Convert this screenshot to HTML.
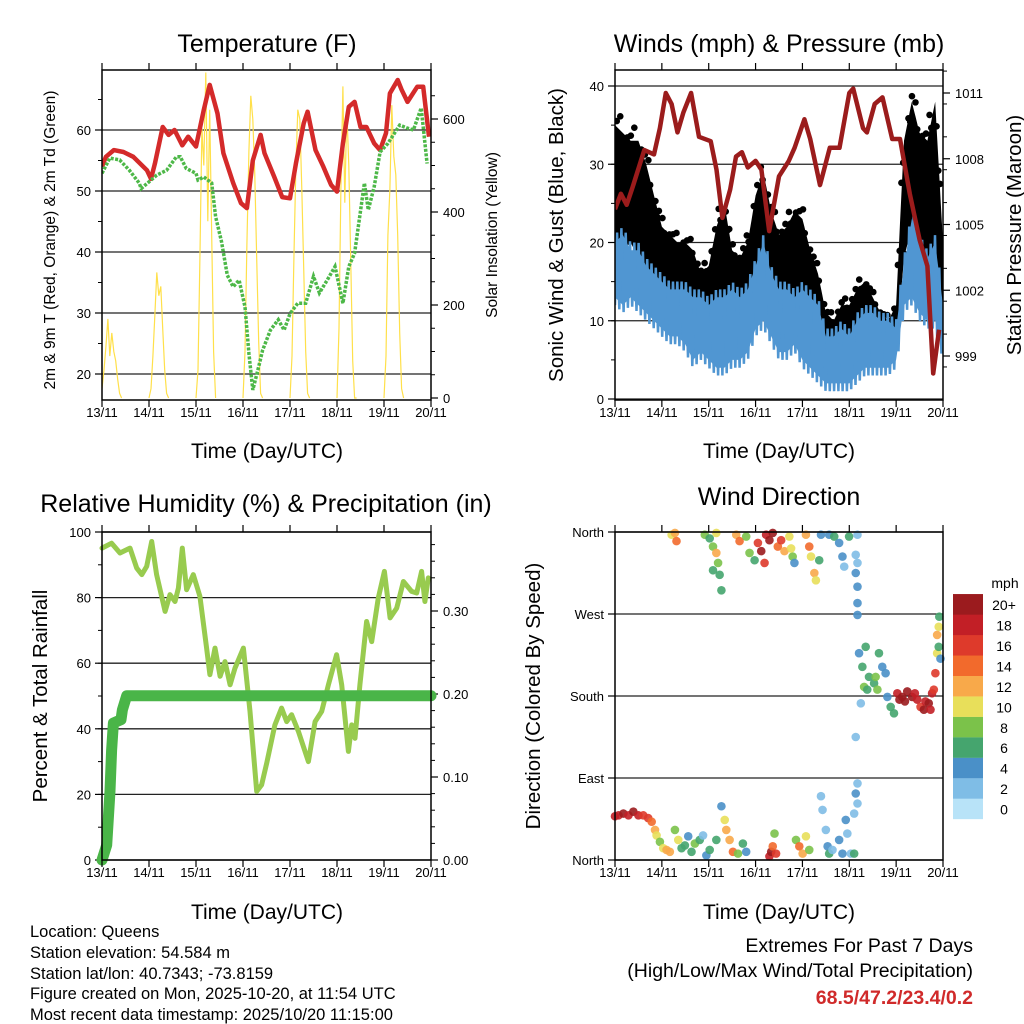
<!DOCTYPE html>
<html><head><meta charset="utf-8"><style>
html,body{margin:0;padding:0;background:#fff;}
svg{display:block;font-family:"Liberation Sans",Arial,sans-serif;}
</style></head><body>
<svg id="s" width="1024" height="1024" viewBox="0 0 1024 1024" xmlns="http://www.w3.org/2000/svg">
<text x="267" y="52" font-size="25" text-anchor="middle">Temperature (F)</text>
<text x="779" y="52" font-size="25" text-anchor="middle">Winds (mph) &amp; Pressure (mb)</text>
<text x="266" y="512" font-size="25" text-anchor="middle">Relative Humidity (%) &amp; Precipitation (in)</text>
<text x="779" y="505" font-size="25" text-anchor="middle">Wind Direction</text>
<text x="267" y="458" font-size="21" text-anchor="middle">Time (Day/UTC)</text>
<text x="779" y="458" font-size="21" text-anchor="middle">Time (Day/UTC)</text>
<text x="267" y="919" font-size="21" text-anchor="middle">Time (Day/UTC)</text>
<text x="779" y="919" font-size="21" text-anchor="middle">Time (Day/UTC)</text>
<text transform="translate(55,240) rotate(-90)" font-size="15.5" text-anchor="middle">2m &amp; 9m T (Red, Orange) &amp; 2m Td (Green)</text>
<text transform="translate(497,235) rotate(-90)" font-size="15.5" text-anchor="middle">Solar Insolation (Yellow)</text>
<text transform="translate(563,235) rotate(-90)" font-size="20.5" text-anchor="middle">Sonic Wind &amp; Gust (Blue, Black)</text>
<text transform="translate(1021,235) rotate(-90)" font-size="20.5" text-anchor="middle">Station Pressure (Maroon)</text>
<text transform="translate(47,696) rotate(-90)" font-size="20.5" text-anchor="middle">Percent &amp; Total Rainfall</text>
<text transform="translate(540,696) rotate(-90)" font-size="20.5" text-anchor="middle">Direction (Colored By Speed)</text>
<g font-size="16.5">
<text x="30" y="937">Location: Queens</text>
<text x="30" y="958">Station elevation: 54.584 m</text>
<text x="30" y="979">Station lat/lon: 40.7343; -73.8159</text>
<text x="30" y="999">Figure created on Mon, 2025-10-20, at 11:54 UTC</text>
<text x="30" y="1020">Most recent data timestamp: 2025/10/20 11:15:00</text>
</g>
<g font-size="19.5" text-anchor="end">
<text x="973" y="952">Extremes For Past 7 Days</text>
<text x="973" y="977">(High/Low/Max Wind/Total Precipitation)</text>
<text x="973" y="1004" fill="#d02a2a" font-weight="bold">68.5/47.2/23.4/0.2</text>
</g>
<g id="g"></g>
</svg>
<script>
const dayLabels=["13/11","14/11","15/11","16/11","17/11","18/11","19/11","20/11"];
// Temperature
const tHours=[0,2,6,11,16,23,25,27,31,34,37,41,44,48,52,55,59,62,67,71,74,77,81,83,88,92,96,99,103,105,109,113,117,120,123,126,129,132,135,139,142,145,147,151,153,156,161,164,167];
const tVals=[54,55.6,56.7,56.4,55.6,53.4,52,54.5,60.5,59.2,60,57.5,58.9,57.3,63.3,67.4,62.7,56.2,51.3,48,47.2,55,59.2,56.2,52.3,49,48.8,54.5,61.1,63,56.7,54,51,49.9,57.8,63.8,64.6,60.5,60.5,57.8,56.7,59.5,66,68.2,66.6,64.6,67.1,67.1,58.9];
const tdHours=[0,4,9,14,19,20,24,28,33,38,40,43,48,49,52,56,58,61,64,67,70,73,75,77,80,82,86,90,93,96,100,104,108,111,115,119,123,126,129,134,136,139,142,146,152,156,159,163,166];
const tdVals=[52.9,55.4,55.1,53.4,51.3,50.4,51.5,52.6,53.4,55.6,55.6,53.7,52.9,51.8,52.3,51.3,45.8,41.7,36.2,34.3,35.4,31,23.4,17.4,21.2,23.9,27.2,28.9,27.2,29.9,31.6,31.6,36,33.3,35.4,37.6,31.6,37.6,39.8,51.3,46.9,50.7,56.4,57.8,60.8,60.3,60,63.6,54.5];
const solarStart=[0,24,48,72,96,120,144];
const solar=[[20,60,110,170,90,140,100,80,40,10,0],[0,20,90,180,270,220,240,150,60,10,0],[0,60,300,580,500,700,380,620,350,100,0],[0,100,330,530,650,600,480,300,120,10,0],[0,90,300,500,620,600,450,280,100,10,0],[0,150,450,670,420,620,500,300,80,0,0],[0,90,350,450,630,520,480,350,140,20,0]];
// Winds
const wHours=[0,4,8,12,16,20,24,28,32,36,40,44,48,52,56,60,64,68,72,76,80,84,88,92,96,100,104,108,112,116,120,124,128,132,136,140,144,148,152,156,160,164,168];
const windLo=[13,12,13,12,11,10,9,8,8,7,5,6,5,4,4,5,5,6,9,10,8,6,6,7,5,4,3,2,2,2,2,3,4,4,4,4,5,12,13,11,10,10,6];
const windHi=[20,21,19,19,17,16,15,14,14,14,13,13,12,13,13,14,13,14,17,20,16,14,14,13,14,13,12,8,8,9,8,10,11,11,10,10,9,17,23,20,18,20,12];
const gustLo=[20,19,20,18,16,14,12,11,11,10,10,9,9,10,12,12,11,10,13,15,12,11,11,12,10,9,8,4,4,5,5,6,6,6,6,5,6,18,22,20,18,19,8];
const gustHi=[35,34,33,33,30,26,22,21,20,20,19,16,17,22,25,19,18,20,26,29,24,21,22,24,23,19,16,11,10,12,12,14,15,13,11,10,12,33,38,34,33,38,20];
const pHours=[0,3,6,9,15,20,23,26,29,32,35,39,43,49,52,55,59,62,65,68,72,75,79,84,89,92,97,100,105,110,115,120,122,127,129,133,137,142,146,151,156,160,163,166];
const pVals=[1005.7,1006.4,1005.9,1006.7,1008.4,1008.2,1009.4,1011,1010.5,1009.2,1010.1,1011,1009,1008.8,1007.5,1005.3,1006.6,1008.1,1008.3,1007.6,1007.9,1007.5,1004.7,1007.2,1007.9,1008.5,1009.8,1008.9,1006.8,1008.5,1008.5,1011,1011.2,1009.4,1009.2,1010.5,1010.8,1008.9,1008.9,1006.4,1004.3,1003.1,998.2,1000.2];
// RH & rain
const rhHours=[0,4.9,9.2,14.3,17.7,20.3,22.8,25.4,27.9,32.2,34.7,37.3,39,41,43.2,46.6,50,53.4,55.1,57.7,60.3,62.8,65.4,67.9,72.2,75.6,79,81.5,84.1,88.3,91.7,94.3,96.8,100.3,105.4,108.8,112.2,115.6,119.8,122.4,125.8,127.5,129.2,131.7,135.1,137.7,141.1,144.2,147.1,150.5,153.9,158.1,160.7,163.2,164.9,166.6];
const rhVals=[95.1,96.6,93.6,95.1,89,87,89.5,97.1,87,75.8,80.9,78.8,82.9,95.1,82.4,87,80.4,64.6,56.5,64.6,56,60.5,53.4,58.5,64.6,45.3,20.9,22.9,29.5,41.2,46.3,42.2,44.3,39.2,30,42.2,45.3,53.4,62.6,53.4,33.1,41.2,37.1,53.4,72.7,66.6,79.9,88,73.8,76.8,84.9,81.9,81.4,88,78.8,86];
const rainHours=[0,2.4,4.1,4.9,5.8,9.7,10.4,12.6,168];
const rainVals=[0,0.018,0.083,0.132,0.165,0.169,0.181,0.198,0.198];
// Wind direction
const wdHours=[0,1.8,4.3,6.9,9.4,12,14.5,17,18.8,20.5,21.3,23,24.7,26.4,28.1,30.7,32.4,34.1,35.8,37.5,39.2,40.9,43.4,45.1,46.8,48.5,51.9,54.5,56.2,57,58.7,60.4,63,65.5,67.2,79.1,80,80.8,81.7,82.5,92.7,94.4,96.1,97.8,99.5,105.5,106.3,108,108.9,109.7,111.4,114.8,116.5,118.2,119,120.8,122.5,124.2,124.2,123.3,122.5,
29,30.7,31.5,46,48.5,50.2,51.9,52.8,50.2,53.6,54.5,51.9,62.1,63.8,67.2,68.9,71.5,73.2,74.9,76.6,77.4,79.1,80.8,83.4,85.1,86.8,89.3,91,91.9,90.2,97.8,99.5,100.4,102.1,102.9,104.6,105.5,109.7,112.3,114.8,116.5,117.4,119.9,124.2,123.3,124.2,123.3,124.2,124.2,124.2,
123.3,125,126.7,127.6,125.9,128.4,130.1,132.7,134.4,135.2,136.9,138.6,139.5,141.2,142.9,144.6,147.1,149.7,152.2,154.8,156.5,159,160.7,162.4,163.3,164.1,165,165.8,165,165.8,166.1,166.7,145.7,148.5,153.6,158.2,161.6,129.2,133.5];
const wdDirs=[48,49,51,49,53,49,49,46,42,33,27,20,13,11,9,33,22,13,16,26,9,18,22,27,5,11,22,59,44,33,22,9,7,18,9,4,9,15,29,7,22,15,7,26,11,70,55,33,15,7,11,22,7,44,29,7,51,62,84,73,7,
357,359,350,357,353,344,337,326,318,313,296,359,357,350,355,337,329,348,339,326,357,351,359,344,351,339,355,333,326,342,357,344,333,315,307,329,357,357,355,348,333,322,355,357,335,326,315,300,282,269,
135,227,212,190,172,234,201,194,187,227,212,205,179,168,161,183,179,185,179,176,168,174,172,183,187,205,227,234,247,256,267,221,176,174,183,165,165,187,201];
const wdSpeeds=[18,19,20,18,20,18,17,16,15,12,10,9,11,12,13,8,10,7,6,5,7,8,6,3,4,6,7,5,10,13,12,14,9,7,5,18,20,15,8,16,8,14,13,10,9,2,2,3,4,6,3,4,5,4,2,3,2,3,2,4,6,
10,12,15,8,7,9,12,8,6,7,6,10,12,14,8,9,6,17,20,16,18,21,20,15,16,12,10,8,4,10,12,14,10,13,10,7,4,4,6,4,4,3,6,2,2,2,4,4,4,4,
2,5,7,8,2,6,6,6,8,6,4,4,5,6,7,19,20,21,20,18,17,18,20,19,16,16,10,6,13,10,7,4,20,21,19,20,18,7,8];
const speedColors=["#b8e3f8","#7fbde6","#4a90c8","#45a56e","#7bc24a","#e8df5a","#f8a94a","#f26a2c","#de3a2b","#c21f26","#9b1b1e"];
const speedLabels=["0","2","4","6","8","10","12","14","16","18","20+"];

const NS="http://www.w3.org/2000/svg";
const G=document.getElementById('g');
function mk(tag,attrs,parent){const e=document.createElementNS(NS,tag);for(const k in attrs)e.setAttribute(k,attrs[k]);(parent||G).appendChild(e);return e;}
function txt(x,y,s,size,anchor,parent){const t=mk('text',{x:x,y:y,'font-size':size,'text-anchor':anchor},parent);t.textContent=s;return t;}
function panel(name,x0,y0,x1,y1){
  const p={x0,y0,x1,y1,g:mk('g',{})};
  
  
  p.x=h=>x0+h/168*(x1-x0);
  return p;
}
function yScale(v0,v1,y0,y1){return v=>y0+(v-v0)/(v1-v0)*(y1-y0);}
function frame(p){
  const r=mk('rect',{x:p.x0,y:p.y0,width:p.x1-p.x0,height:p.y1-p.y0,fill:'none',stroke:'#000','stroke-width':1.5},p.g);
  
  
  for(let d=0;d<=7;d++){
    const x=p.x(d*24);
    mk('line',{x1:x,x2:x,y1:p.y1,y2:p.y1+7,stroke:'#000','stroke-width':1.2},p.g);
    mk('line',{x1:x,x2:x,y1:p.y0,y2:p.y0-7,stroke:'#000','stroke-width':1.2},p.g);
    const t=txt(x,p.y1+17,dayLabels[d],13,'middle',p.g);
    
    
  }
}
function leftAxis(p,ys,majors,labels,minors,grid){
  majors.forEach((v,i)=>{const y=ys(v);
    if(grid)mk('line',{x1:p.x0,x2:p.x1,y1:y,y2:y,stroke:'#222','stroke-width':1.3},p.g);
    mk('line',{x1:p.x0-7,x2:p.x0,y1:y,y2:y,stroke:'#000','stroke-width':1.2},p.g);
    const t=txt(p.x0-11,y+5,labels[i],13,'end',p.g);
    
    });
  minors.forEach(v=>{const y=ys(v);mk('line',{x1:p.x0-4,x2:p.x0,y1:y,y2:y,stroke:'#000','stroke-width':1},p.g);});
}
function rightAxis(p,ys,majors,labels,minors){
  majors.forEach((v,i)=>{const y=ys(v);
    mk('line',{x1:p.x1,x2:p.x1+7,y1:y,y2:y,stroke:'#000','stroke-width':1.2},p.g);
    const t=txt(p.x1+12,y+5,labels[i],13,'start',p.g);
    
    });
  minors.forEach(v=>{const y=ys(v);mk('line',{x1:p.x1,x2:p.x1+4,y1:y,y2:y,stroke:'#000','stroke-width':1},p.g);});
}
function range(a,b,s){const r=[];for(let v=a;v<=b+1e-9;v+=s)r.push(+v.toFixed(4));return r;}
function pts(p,xs,vs,ys){return xs.map((h,i)=>p.x(h).toFixed(1)+','+ys(vs[i]).toFixed(1)).join(' ');}
function interp(xs,vs,h){for(let i=1;i<xs.length;i++){if(h<=xs[i]){const f=(h-xs[i-1])/(xs[i]-xs[i-1]);return vs[i-1]+f*(vs[i]-vs[i-1]);}}return vs[vs.length-1];}

// ---- Temperature panel
const P1=panel('temperature-panel',102,70,431,400);
const yT=yScale(60,50,130,191), yS=yScale(0,600,398,119);
leftAxis(P1,yT,[20,30,40,50,60],["20","30","40","50","60"],range(20,65,5),true);
rightAxis(P1,yS,[0,200,400,600],["0","200","400","600"],range(0,650,50));
const clip1=mk('clipPath',{id:'c1'},P1.g);mk('rect',{x:102,y:70,width:329,height:330},clip1);
const sg=mk('g',{'clip-path':'url(#c1)'},P1.g);
solarStart.forEach((s,d)=>{const xs=solar[d].map((v,i)=>s+i);
  const l=mk('polyline',{points:pts(P1,xs,solar[d],yS),fill:'none',stroke:'#ffe04a','stroke-width':1.2},sg);
  
  });
const tl=mk('polyline',{points:pts(P1,tHours,tVals,yT),fill:'none',stroke:'#d42a2a','stroke-width':4.5,'stroke-linejoin':'round'},sg);


const dl=mk('polyline',{points:pts(P1,tdHours,tdVals,yT),fill:'none',stroke:'#4db848','stroke-width':3.5,'stroke-dasharray':'3 1.5'},sg);


frame(P1);

// ---- Winds panel
const P2=panel('winds-panel',615,70,943,400);
const yW=yScale(0,40,399,86), yP=yScale(999,1011,356,93);
leftAxis(P2,yW,[0,10,20,30,40],["0","10","20","30","40"],range(0,40,5),true);
rightAxis(P2,yP,[999,1002,1005,1008,1011],["999","1002","1005","1008","1011"],range(998.5,1012,1.5));
const clip2=mk('clipPath',{id:'c2'},P2.g);mk('rect',{x:615,y:70,width:328,height:330},clip2);
const wg=mk('g',{'clip-path':'url(#c2)'},P2.g);
function band(lo,hi){const top=[],bot=[];for(let h=0;h<=168;h+=1){top.push(P2.x(h).toFixed(1)+','+yW(interp(wHours,hi,h)).toFixed(1));bot.unshift(P2.x(h).toFixed(1)+','+yW(interp(wHours,lo,h)).toFixed(1));}return top.concat(bot).join(' ');}
function zig(lo,hi,step){const a=[];let k=0;for(let h=0;h<=168;h+=step){const v=(k%2?interp(wHours,hi,h):interp(wHours,lo,h));a.push(P2.x(h).toFixed(1)+','+yW(v).toFixed(1));k++;}return a.join(' ');}
const gband=mk('polygon',{points:band(gustLo,gustHi),fill:'#000'},wg);


const fracs=[0.9,1.05,0.75,1.12,0.95,0.0,-0.08,1.0];
let k2=0;
for(let h=0;h<=168;h+=0.9){const lo=interp(wHours,gustLo,h),hi=interp(wHours,gustHi,h);
  const f=fracs[k2%fracs.length];k2++;
  const c=mk('circle',{cx:P2.x(h),cy:yW(lo+f*(hi-lo)),r:3.3,fill:'#000'},wg);
  
  }
const wband=mk('polygon',{points:band(windLo,windHi),fill:'#5096d2'},wg);


const wb=mk('polyline',{points:zig(windLo.map(v=>v-1),windHi.map(v=>v+1),1.1),fill:'none',stroke:'#5096d2','stroke-width':2.5},wg);


const pl=mk('polyline',{points:pts(P2,pHours,pVals,yP),fill:'none',stroke:'#9b1c1c','stroke-width':4.5,'stroke-linejoin':'round'},wg);


frame(P2);

// ---- RH panel
const P3=panel('humidity-panel',102,532,431,860);
const yR=yScale(0,100,860,532), yRain=yScale(0,0.3,860,611);
leftAxis(P3,yR,[0,20,40,60,80,100],["0","20","40","60","80","100"],range(0,100,10),true);
rightAxis(P3,yRain,[0,0.1,0.2,0.3],["0.00","0.10","0.20","0.30"],range(0,0.38,0.02));
const rl=mk('polyline',{points:pts(P3,rhHours,rhVals,yR),fill:'none',stroke:'#98cb4f','stroke-width':5,'stroke-linejoin':'round','stroke-linecap':'round'},P3.g);


const pr=mk('polyline',{points:pts(P3,rainHours,rainVals,yRain),fill:'none',stroke:'#4ab548','stroke-width':11,'stroke-linejoin':'round','stroke-linecap':'round'},P3.g);


frame(P3);

// ---- Wind direction panel
const P4=panel('wind-direction-panel',615,532,943,860);
const yD=yScale(0,360,860,532);
leftAxis(P4,yD,[0,90,180,270,360],["North","East","South","West","North"],[],true);
wdHours.forEach((h,i)=>{const bin=Math.min(10,Math.floor(wdSpeeds[i]/2));
  const c=mk('circle',{cx:P4.x(h),cy:yD(wdDirs[i]),r:4.3,fill:speedColors[bin],'fill-opacity':0.9},P4.g);
  
  });
frame(P4);
const cb=mk('g',{},G);


speedColors.forEach((col,i)=>{const y=819-(i+1)*20.45;
  const r=mk('rect',{x:953,y:y,width:30,height:20.6,fill:col},cb);
  
  
  txt(1004,y+16,speedLabels[i],14,'middle',cb);});
txt(1005,588,'mph',14,'middle',cb);
</script>
</body></html>
